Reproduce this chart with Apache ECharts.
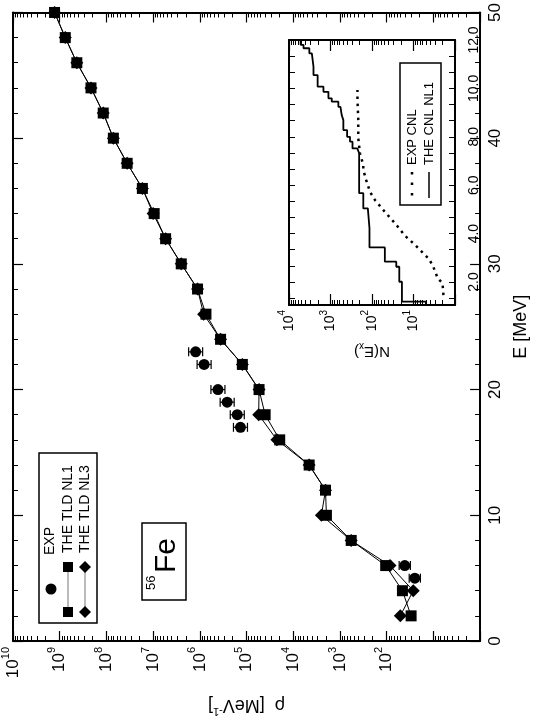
<!DOCTYPE html>
<html>
<head>
<meta charset="utf-8">
<script src="https://cdn.jsdelivr.net/npm/echarts@6/dist/echarts.min.js"></script>
<style>
  html, body { margin: 0; padding: 0; background: #fff; }
  #chart { width: 538px; height: 722px; }
</style>
</head>
<body>
<div id="chart"></div>
<script>
// main panel: level density rho(E) of 56Fe
const energies = [2, 4, 6, 8, 10, 12, 14, 16, 18, 20, 22, 24, 26, 28, 30, 32, 34, 36, 38, 40, 42, 44, 46, 48, 50];
const rhoNL1 = [30, 46, 105, 575, 1950, 2040, 4570, 1.95e4, 4.0e4, 5.4e4, 1.23e5, 3.6e5, 7.4e5, 1.12e6, 2.5e6,
  5.4e6, 9.5e6, 1.7e7, 3.6e7, 7.1e7, 1.17e8, 2.14e8, 4.3e8, 7.6e8, 1.29e9];
const rhoNL3 = [51, 27, 85, 575, 2500, 2040, 4570, 2.24e4, 5.5e4, 5.4e4, 1.23e5, 3.6e5, 8.3e5, 1.12e6, 2.5e6,
  5.4e6, 1.0e7, 1.7e7, 3.6e7, 7.1e7, 1.17e8, 2.14e8, 4.3e8, 7.6e8, 1.29e9];
const expE = [5, 6, 17, 18, 19, 20, 22, 23];
const expRho = [25, 41, 1.35e5, 1.58e5, 2.6e5, 4.1e5, 8.1e5, 1.23e6];
const expErrDex = [0.12, 0.12, 0.15, 0.15, 0.15, 0.15, 0.15, 0.15];

// inset: cumulative number of levels N(Ex), theory staircase and experiment
const stepE = [1.05, 1.19, 2.01, 2.63, 2.84, 3.43, 4.22, 5.04, 5.67, 7.32, 7.52, 7.80, 8.00, 8.28, 8.69, 8.90,
  9.24, 9.45, 9.59, 9.86, 10.07, 10.55, 10.90, 11.45, 11.66, 11.80];
const stepN = [5, 19, 22, 26, 49, 115, 126, 162, 204, 226, 295, 339, 398, 490, 537, 575,
  646, 933, 1122, 1479, 2042, 2570, 2818, 3236, 4467, 5248];
const stepTopE = 12;
const cnlE = [1.46, 1.95, 2.15, 2.61, 2.95, 3.16, 3.53, 3.90, 4.43, 4.90, 5.39, 5.73, 6.21, 6.63, 6.83, 7.32, 7.94, 8.69, 9.52, 9.93];
const cnlN = [1.9, 2.0, 2.6, 3.3, 4.2, 5.6, 9.1, 15.8, 28, 49, 85, 112, 138, 162, 162, 195, 214, 214, 224, 224];

// tick labels
const eTicks = [0, 10, 20, 30, 40, 50];
const insetETicks = [2, 4, 6, 8, 10, 12];

const FONT = '"Liberation Sans", Arial, sans-serif';
const BLACK = '#000';

// log-space tick helpers (exponents) for the decorative tick axes
function minorDecades(n) {
  const out = [];
  for (let d = 0; d < n; d++) {
    for (let k = 2; k <= 9; k++) out.push(d + Math.log10(k));
  }
  return out;
}

function powLabel(minExp, big, small) {
  return {
    formatter: v => (v < minExp ? '' : '{b|10}{s|' + v + '}'),
    rich: {
      b: { fontSize: big, fontFamily: FONT, color: BLACK, lineHeight: big + 9 },
      s: { fontSize: small, fontFamily: FONT, color: BLACK, lineHeight: small + 1, verticalAlign: 'top' }
    }
  };
}

// one x axis in decade units (0..nDec) laid over a log data axis
function decadeAxis(grid, pos, nDec, opt) {
  const base = {
    type: 'value', gridIndex: grid, position: pos, inverse: true, min: 0, max: nDec, interval: 1,
    axisLine: { show: false, onZero: false },
    axisTick: { show: false },
    axisLabel: { show: false },
    splitLine: { show: false }
  };
  return Object.assign(base, opt);
}

const frame = w => ({ show: true, onZero: false, lineStyle: { color: BLACK, width: w } });

// main plot
const mainMajor = { show: true, inside: true, length: 10, lineStyle: { color: BLACK, width: 1.2 } };
const mainMinor = { show: true, inside: true, length: 5, customValues: minorDecades(10), lineStyle: { color: BLACK, width: 1 } };
// inset
const insMajor = { show: true, inside: true, length: 11, lineStyle: { color: BLACK, width: 1.2 } };
const insMinor = { show: true, inside: true, length: 5, customValues: minorDecades(4), lineStyle: { color: BLACK, width: 1 } };

const insetTickVals = [];
for (let k = 2; k <= 18; k++) insetTickVals.push(Math.round(k * 2 / 3 * 1e6) / 1e6);

const xAxes = [
  // 0: main data axis (log)
  { type: 'log', gridIndex: 0, show: false, inverse: true, min: 1, max: 1e10, axisLine: { onZero: false } },
  // 1: main bottom majors + labels
  decadeAxis(0, 'bottom', 10, {
    axisLine: frame(2),
    axisTick: mainMajor,
    axisLabel: Object.assign({ show: true, rotate: 90, margin: 6 }, powLabel(2, 17, 11)),
    name: '{t|ρ  [MeV}{s|-1}{t|]}',
    nameLocation: 'middle', nameRotate: 180, nameGap: 52,
    nameTextStyle: {
      rich: {
        t: { fontSize: 18, fontFamily: FONT, color: BLACK, lineHeight: 24 },
        s: { fontSize: 11, fontFamily: FONT, color: BLACK, lineHeight: 12, verticalAlign: 'top' }
      }
    }
  }),
  // 2: main bottom minors
  decadeAxis(0, 'bottom', 10, { axisTick: mainMinor }),
  // 3: main top frame + majors
  decadeAxis(0, 'top', 10, { axisLine: frame(2), axisTick: mainMajor }),
  // 4: main top minors
  decadeAxis(0, 'top', 10, { axisTick: mainMinor }),
  // 5: inset data axis (log)
  { type: 'log', gridIndex: 1, show: false, inverse: true, min: 1, max: 1e4, axisLine: { onZero: false } },
  // 6: inset bottom majors + labels
  decadeAxis(1, 'bottom', 4, {
    axisLine: frame(2),
    axisTick: insMajor,
    axisLabel: Object.assign({ show: true, rotate: 90, margin: 5 }, powLabel(1, 14, 10)),
    name: '{t|N(E}{u|x}{t|)}',
    nameLocation: 'middle', nameRotate: 180, nameGap: 36,
    nameTextStyle: {
      rich: {
        t: { fontSize: 15, fontFamily: FONT, color: BLACK, lineHeight: 20 },
        u: { fontSize: 10, fontFamily: FONT, color: BLACK, lineHeight: 10, verticalAlign: 'bottom' }
      }
    }
  }),
  // 7: inset bottom minors
  decadeAxis(1, 'bottom', 4, { axisTick: insMinor }),
  // 8: inset top frame + majors
  decadeAxis(1, 'top', 4, { axisLine: frame(2), axisTick: insMajor }),
  // 9: inset top minors
  decadeAxis(1, 'top', 4, { axisTick: insMinor })
];

const eTickStyle = { show: true, inside: true, length: 10, lineStyle: { color: BLACK, width: 1.2 } };
const eMinor = { show: true, splitNumber: 5, length: 5, lineStyle: { color: BLACK, width: 1 } };
const insETick = { show: true, inside: true, length: 6, customValues: insetTickVals, lineStyle: { color: BLACK, width: 1 } };

const yAxes = [
  // 0: main E axis (right)
  {
    type: 'value', gridIndex: 0, position: 'right', min: 0, max: 50, interval: 10,
    axisLine: frame(2), axisTick: eTickStyle, minorTick: eMinor,
    axisLabel: {
      rotate: 90, margin: 7, fontSize: 17, fontFamily: FONT, color: BLACK,
      formatter: v => (eTicks.indexOf(v) >= 0 ? String(v) : '')
    },
    splitLine: { show: false },
    name: 'E [MeV]', nameLocation: 'middle', nameRotate: 90, nameGap: 28,
    nameTextStyle: { fontSize: 18, fontFamily: FONT, color: BLACK }
  },
  // 1: main left mirror
  {
    type: 'value', gridIndex: 0, position: 'left', min: 0, max: 50, interval: 10,
    axisLine: frame(2), axisTick: eTickStyle, minorTick: eMinor,
    axisLabel: { show: false }, splitLine: { show: false }
  },
  // 2: inset E axis (right)
  {
    type: 'value', gridIndex: 1, position: 'right', min: 1.05, max: 12,
    axisLine: frame(2), axisTick: insETick,
    axisLabel: {
      rotate: 90, margin: 12, fontSize: 14, fontFamily: FONT, color: BLACK,
      customValues: insetETicks, formatter: v => v.toFixed(1)
    },
    splitLine: { show: false }
  },
  // 3: inset left mirror
  {
    type: 'value', gridIndex: 1, position: 'left', min: 1.05, max: 12,
    axisLine: frame(2), axisTick: insETick,
    axisLabel: { show: false }, splitLine: { show: false }
  }
];

// staircase corners built from the level list
const stepPts = [];
for (let i = 0; i < stepE.length; i++) {
  if (i > 0) stepPts.push([stepN[i - 1], stepE[i]]);
  stepPts.push([stepN[i], stepE[i]]);
}
stepPts.push([stepN[stepN.length - 1], stepTopE]);

const errData = expE.map((e, i) => [expRho[i], e,
  expRho[i] * Math.pow(10, -expErrDex[i]), expRho[i] * Math.pow(10, expErrDex[i])]);

// legend / annotation drawing helpers
function vtext(x, y, text, size) {
  return {
    type: 'text', x: x, y: y, rotation: Math.PI / 2, z: 100,
    style: {
      text: text, font: size + 'px ' + FONT, fill: BLACK,
      align: 'left', verticalAlign: 'middle', textAlign: 'left', textVerticalAlign: 'middle'
    }
  };
}
function box(x, y, w, h) {
  return { type: 'rect', z: 90, shape: { x: x, y: y, width: w, height: h }, style: { fill: '#fff', stroke: BLACK, lineWidth: 1.5 } };
}
function seg(x1, y1, x2, y2, style) {
  return { type: 'line', z: 95, shape: { x1: x1, y1: y1, x2: x2, y2: y2 }, style: Object.assign({ stroke: BLACK, lineWidth: 1 }, style) };
}
function sq(cx, cy, s) {
  return { type: 'rect', z: 96, shape: { x: cx - s / 2, y: cy - s / 2, width: s, height: s }, style: { fill: BLACK } };
}
function dia(cx, cy, r) {
  return { type: 'polygon', z: 96, shape: { points: [[cx, cy - r], [cx + r, cy], [cx, cy + r], [cx - r, cy]] }, style: { fill: BLACK } };
}

const graphics = [
  // main legend
  box(39, 453, 58, 170),
  { type: 'circle', z: 96, shape: { cx: 51, cy: 589, r: 5.5 }, style: { fill: BLACK } },
  vtext(50, 555, 'EXP', 14),
  seg(68, 567, 68, 612, { stroke: '#777' }), sq(68, 567, 10), sq(68, 612, 10),
  vtext(68, 553, 'THE TLD NL1', 14),
  seg(85, 567, 85, 612, { stroke: '#777' }), dia(85, 567, 6), dia(85, 612, 6),
  vtext(85, 553, 'THE TLD NL3', 14),
  // nucleus label
  box(142, 523, 44, 77),
  vtext(151, 590, '56', 13),
  vtext(167, 573, 'Fe', 30),
  // inset legend
  box(400, 63, 41, 142),
  seg(412, 172, 412, 198, { lineWidth: 2.5, lineDash: [2.5, 8] }),
  vtext(412, 165, 'EXP CNL', 13),
  seg(429, 172, 429, 198, { lineWidth: 1.5 }),
  vtext(429, 165, 'THE CNL NL1', 13)
];

const chart = echarts.init(document.getElementById('chart'), null, { renderer: 'canvas' });
chart.setOption({
  animation: false,
  backgroundColor: '#fff',
  grid: [
    { left: 12, right: 43, top: 12, bottom: 73 },
    { left: 289, right: 83, top: 40, bottom: 417, show: true, backgroundColor: '#fff', borderWidth: 0 }
  ],
  xAxis: xAxes,
  yAxis: yAxes,
  graphic: graphics,
  series: [
    {
      name: 'THE TLD NL3', type: 'line', xAxisIndex: 0, yAxisIndex: 0,
      data: energies.map((e, i) => [rhoNL3[i], e]),
      symbol: 'diamond', symbolSize: 13,
      itemStyle: { color: BLACK, opacity: 1 }, lineStyle: { color: BLACK, width: 1 }
    },
    {
      name: 'THE TLD NL1', type: 'line', xAxisIndex: 0, yAxisIndex: 0,
      data: energies.map((e, i) => [rhoNL1[i], e]),
      symbol: 'rect', symbolSize: 11,
      itemStyle: { color: BLACK, opacity: 1 }, lineStyle: { color: BLACK, width: 1 }
    },
    {
      name: 'EXP err', type: 'custom', xAxisIndex: 0, yAxisIndex: 0,
      data: errData, encode: { x: 0, y: 1 },
      renderItem: function (params, api) {
        const e = api.value(1);
        const a = api.coord([api.value(2), e]);
        const b = api.coord([api.value(3), e]);
        const h = 4.5;
        const st = { stroke: BLACK, lineWidth: 1.2 };
        return {
          type: 'group',
          children: [
            { type: 'line', shape: { x1: a[0], y1: a[1], x2: b[0], y2: b[1] }, style: st },
            { type: 'line', shape: { x1: a[0], y1: a[1] - h, x2: a[0], y2: a[1] + h }, style: st },
            { type: 'line', shape: { x1: b[0], y1: b[1] - h, x2: b[0], y2: b[1] + h }, style: st }
          ]
        };
      }
    },
    {
      name: 'EXP', type: 'scatter', xAxisIndex: 0, yAxisIndex: 0,
      data: expE.map((e, i) => [expRho[i], e]),
      symbol: 'circle', symbolSize: 11, itemStyle: { color: BLACK, opacity: 1 }
    },
    {
      name: 'THE CNL NL1', type: 'line', xAxisIndex: 5, yAxisIndex: 2,
      data: stepPts, showSymbol: false, symbol: 'none',
      lineStyle: { color: BLACK, width: 1.8 }
    },
    {
      name: 'EXP CNL', type: 'line', xAxisIndex: 5, yAxisIndex: 2,
      data: cnlE.map((e, i) => [cnlN[i], e]), showSymbol: false, symbol: 'none',
      lineStyle: { color: BLACK, width: 2.5, type: [2.5, 4.5] }
    }
  ]
});
</script>
</body>
</html>
